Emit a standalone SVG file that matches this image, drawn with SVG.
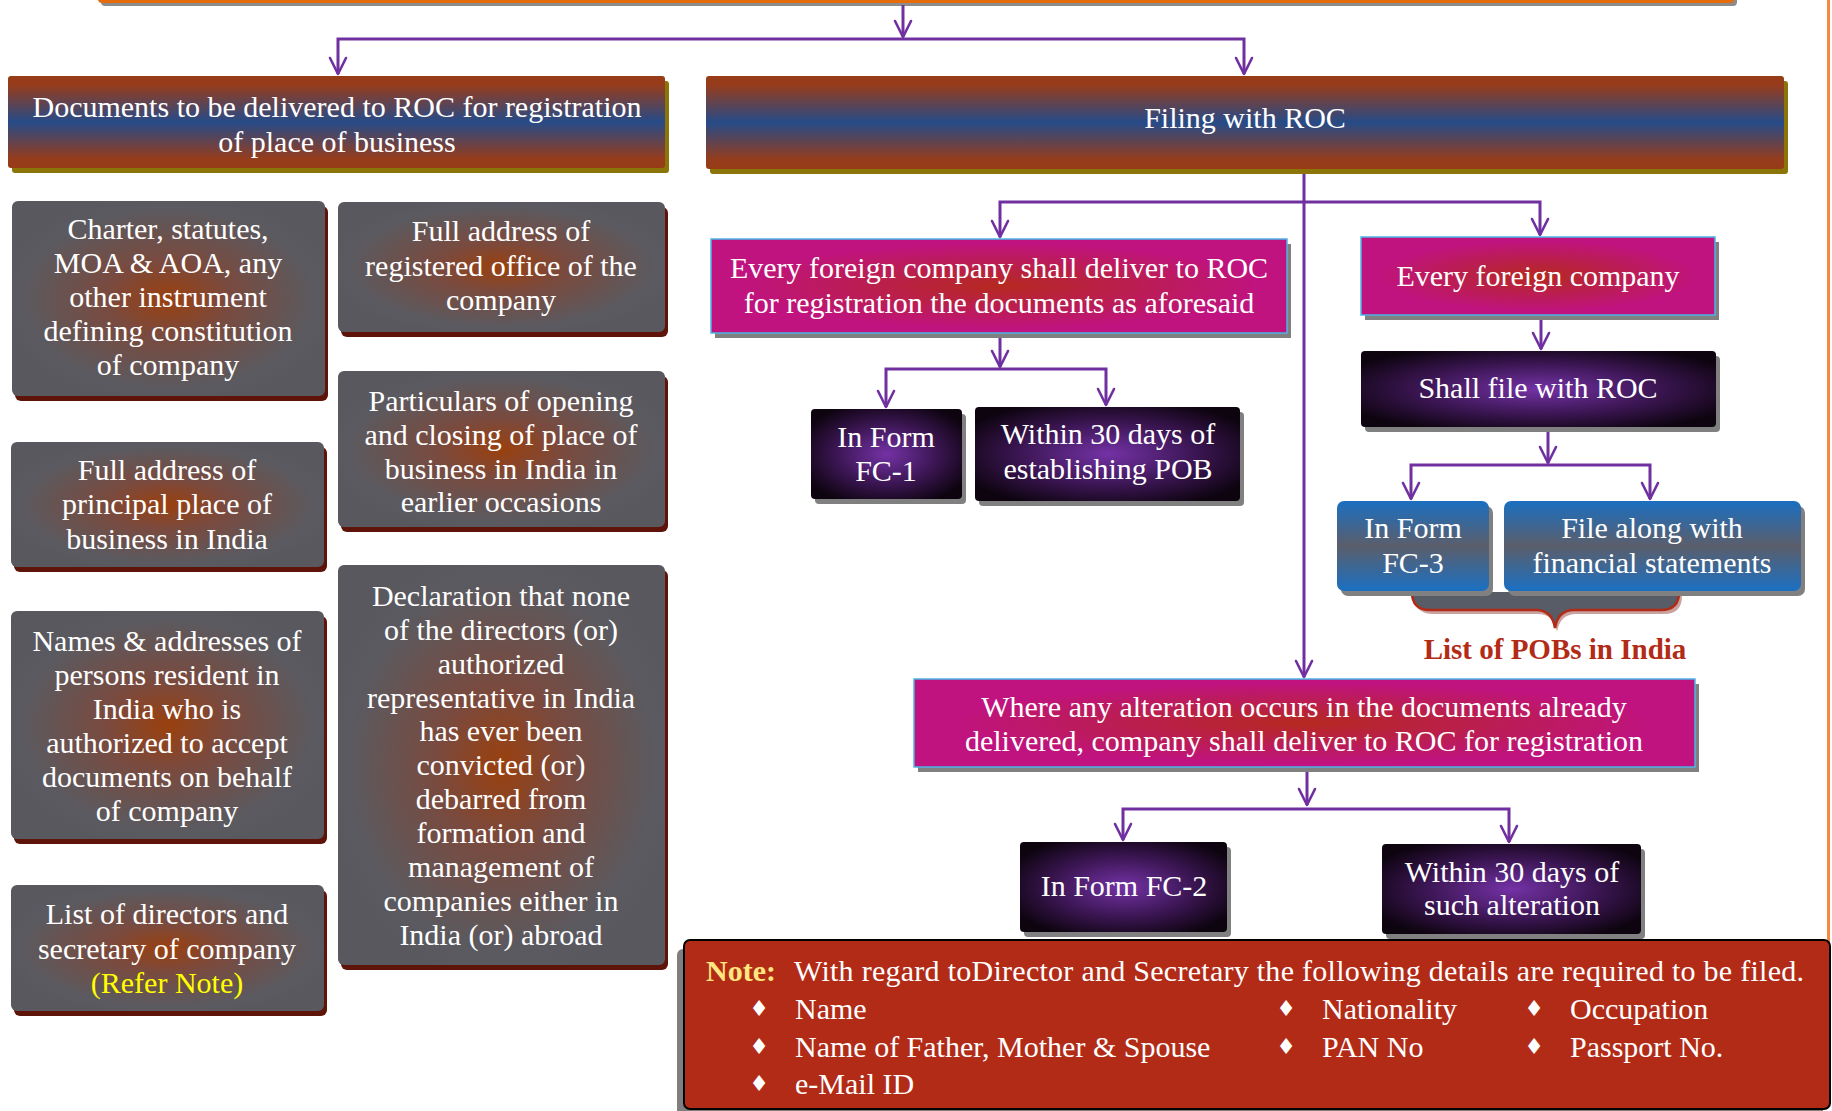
<svg xmlns="http://www.w3.org/2000/svg" width="1832" height="1111" viewBox="0 0 1832 1111">
<style>
.t{font-family:"Liberation Serif","Times New Roman",serif;font-size:30px;fill:#ffffff;text-anchor:middle;dominant-baseline:central}
.n{font-family:"Liberation Serif","Times New Roman",serif;font-size:30px;fill:#ffffff;dominant-baseline:central}
.b{font-family:"DejaVu Sans",sans-serif;font-size:22px;fill:#ffffff;text-anchor:middle;dominant-baseline:central}
.conn path{fill:none;stroke:#7030A0;stroke-width:3}
.sh-o{fill:#8B7509}
.sh-r{fill:#5E1409}
.sh-g{fill:#808080}
.band{fill:url(#gBand)}
.gray{fill:url(#gGray)}
.mag{fill:url(#gMag);stroke:#4DB5E8;stroke-width:1.5}
.pur{fill:url(#gPur)}
.blu{fill:url(#gBlue)}
</style>
<defs>
<linearGradient id="gBand" x1="0" y1="0" x2="0" y2="1">
<stop offset="0" stop-color="#983C16"/>
<stop offset="0.1" stop-color="#963C1C"/>
<stop offset="0.5" stop-color="#264B88"/>
<stop offset="0.9" stop-color="#963C1C"/>
<stop offset="1" stop-color="#983C16"/>
</linearGradient>
<radialGradient id="gGray" cx="0.5" cy="0.5" r="0.55">
<stop offset="0" stop-color="#9A400E"/>
<stop offset="0.35" stop-color="#7A4A3E"/>
<stop offset="0.85" stop-color="#5A5A60"/>
<stop offset="1" stop-color="#58585E"/>
</radialGradient>
<radialGradient id="gMag" cx="0.5" cy="0.5" r="0.5">
<stop offset="0" stop-color="#B5291F"/>
<stop offset="0.9" stop-color="#C0137F"/>
<stop offset="1" stop-color="#C0137F"/>
</radialGradient>
<radialGradient id="gPur" cx="0.5" cy="0.5" r="0.6">
<stop offset="0" stop-color="#7432A6"/>
<stop offset="0.55" stop-color="#3C1654"/>
<stop offset="1" stop-color="#0E0410"/>
</radialGradient>
<linearGradient id="gBlue" x1="0" y1="0" x2="0" y2="1">
<stop offset="0" stop-color="#1B6FC1"/>
<stop offset="0.5" stop-color="#5B5E6B"/>
<stop offset="1" stop-color="#1B70C3"/>
</linearGradient>
<marker id="ah" viewBox="-20 -10 22 20" refX="0" refY="0" markerWidth="22" markerHeight="20" orient="auto" markerUnits="userSpaceOnUse">
<path d="M-16,-8 L0,0 L-16,8" fill="none" stroke="#7030A0" stroke-width="2.6" stroke-linejoin="round" stroke-linecap="round"/>
</marker>
</defs>
<rect width="1832" height="1111" fill="#ffffff"/>

<!-- top bar and right border -->
<g id="topbar">
<rect x="101" y="-37" width="1636" height="43" rx="4" fill="#8C8C8C"/>
<rect x="98" y="-40" width="1636" height="43" rx="4" fill="#E46C0A"/>
</g>
<rect id="rightline" x="1827" y="0" width="3" height="945" fill="#F58A3F"/>

<!-- connectors -->
<g class="conn">
<path d="M903,5 V37" marker-end="url(#ah)"/>
<path d="M903,39 H338 V74" marker-end="url(#ah)"/>
<path d="M903,39 H1244 V74" marker-end="url(#ah)"/>
<path d="M1304,174 V677" marker-end="url(#ah)"/>
<path d="M1304,202 H1000 V237" marker-end="url(#ah)"/>
<path d="M1304,202 H1540 V235" marker-end="url(#ah)"/>
<path d="M1000,338 V367" marker-end="url(#ah)"/>
<path d="M1000,369 H886 V407" marker-end="url(#ah)"/>
<path d="M1000,369 H1106 V405" marker-end="url(#ah)"/>
<path d="M1541,320 V349" marker-end="url(#ah)"/>
<path d="M1548,431 V463" marker-end="url(#ah)"/>
<path d="M1548,465 H1411 V499" marker-end="url(#ah)"/>
<path d="M1548,465 H1650 V499" marker-end="url(#ah)"/>
<path d="M1307,772 V805" marker-end="url(#ah)"/>
<path d="M1307,809 H1123 V840" marker-end="url(#ah)"/>
<path d="M1307,809 H1509 V842" marker-end="url(#ah)"/>
</g>

<!-- header boxes -->
<g id="docs">
<rect class="sh-o" x="12" y="81" width="657" height="92" rx="3"/>
<rect class="band" x="8" y="76" width="657" height="92" rx="3"/>
<text class="t" x="337" y="106">Documents to be delivered to ROC for registration</text>
<text class="t" x="337" y="141">of place of business</text>
</g>
<g id="filing">
<rect class="sh-o" x="710" y="81" width="1078" height="93" rx="3"/>
<rect class="band" x="706" y="76" width="1078" height="93" rx="3"/>
<text class="t" x="1245" y="117">Filing with ROC</text>
</g>

<!-- gray document boxes -->
<g id="charter">
<rect class="sh-r" x="15" y="206" width="313" height="195" rx="6"/>
<rect class="gray" x="12" y="201" width="313" height="195" rx="6"/>
<text class="t" x="168" y="228">Charter, statutes,</text>
<text class="t" x="168" y="262">MOA &amp; AOA, any</text>
<text class="t" x="168" y="296">other instrument</text>
<text class="t" x="168" y="330">defining constitution</text>
<text class="t" x="168" y="364">of company</text>
</g>
<g id="regoffice">
<rect class="sh-r" x="341" y="207" width="327" height="130" rx="6"/>
<rect class="gray" x="338" y="202" width="327" height="130" rx="6"/>
<text class="t" x="501" y="230">Full address of</text>
<text class="t" x="501" y="265">registered office of the</text>
<text class="t" x="501" y="299">company</text>
</g>
<g id="particulars">
<rect class="sh-r" x="341" y="376" width="327" height="156" rx="6"/>
<rect class="gray" x="338" y="371" width="327" height="156" rx="6"/>
<text class="t" x="501" y="400">Particulars of opening</text>
<text class="t" x="501" y="434">and closing of place of</text>
<text class="t" x="501" y="468">business in India in</text>
<text class="t" x="501" y="501">earlier occasions</text>
</g>
<g id="principal">
<rect class="sh-r" x="14" y="447" width="313" height="125" rx="6"/>
<rect class="gray" x="11" y="442" width="313" height="125" rx="6"/>
<text class="t" x="167" y="469">Full address of</text>
<text class="t" x="167" y="503">principal place of</text>
<text class="t" x="167" y="538">business in India</text>
</g>
<g id="names">
<rect class="sh-r" x="14" y="616" width="313" height="228" rx="6"/>
<rect class="gray" x="11" y="611" width="313" height="228" rx="6"/>
<text class="t" x="167" y="640">Names &amp; addresses of</text>
<text class="t" x="167" y="674">persons resident in</text>
<text class="t" x="167" y="708">India who is</text>
<text class="t" x="167" y="742">authorized to accept</text>
<text class="t" x="167" y="776">documents on behalf</text>
<text class="t" x="167" y="810">of company</text>
</g>
<g id="declaration">
<rect class="sh-r" x="341" y="570" width="327" height="400" rx="6"/>
<rect class="gray" x="338" y="565" width="327" height="400" rx="6"/>
<text class="t" x="501" y="595">Declaration that none</text>
<text class="t" x="501" y="629">of the directors (or)</text>
<text class="t" x="501" y="663">authorized</text>
<text class="t" x="501" y="697">representative in India</text>
<text class="t" x="501" y="730">has ever been</text>
<text class="t" x="501" y="764">convicted (or)</text>
<text class="t" x="501" y="798">debarred from</text>
<text class="t" x="501" y="832">formation and</text>
<text class="t" x="501" y="866">management of</text>
<text class="t" x="501" y="900">companies either in</text>
<text class="t" x="501" y="934">India (or) abroad</text>
</g>
<g id="directors">
<rect class="sh-r" x="14" y="890" width="313" height="126" rx="6"/>
<rect class="gray" x="11" y="885" width="313" height="126" rx="6"/>
<text class="t" x="167" y="913">List of directors and</text>
<text class="t" x="167" y="948">secretary of company</text>
<text class="t" x="167" y="982" style="fill:#FFFF00">(Refer Note)</text>
</g>

<!-- magenta boxes -->
<g id="deliver">
<rect class="sh-g" x="715" y="244" width="576" height="94"/>
<rect class="mag" x="711" y="239" width="576" height="94"/>
<text class="t" x="999" y="267">Every foreign company shall deliver to ROC</text>
<text class="t" x="999" y="302">for registration the documents as aforesaid</text>
</g>
<g id="everyforeign">
<rect class="sh-g" x="1365" y="242" width="354" height="78"/>
<rect class="mag" x="1361" y="237" width="354" height="78"/>
<text class="t" x="1538" y="275">Every foreign company</text>
</g>
<g id="alteration">
<rect class="sh-g" x="918" y="684" width="781" height="88"/>
<rect class="mag" x="914" y="679" width="781" height="88"/>
<text class="t" x="1304" y="706">Where any alteration occurs in the documents already</text>
<text class="t" x="1304" y="740">delivered, company shall deliver to ROC for registration</text>
</g>

<!-- purple boxes -->
<g id="shallfile">
<rect class="sh-g" x="1365" y="356" width="355" height="76" rx="4"/>
<rect class="pur" x="1361" y="351" width="355" height="76" rx="4"/>
<text class="t" x="1538" y="387">Shall file with ROC</text>
</g>
<g id="fc1">
<rect class="sh-g" x="815" y="414" width="151" height="90" rx="4"/>
<rect class="pur" x="811" y="409" width="151" height="90" rx="4"/>
<text class="t" x="886" y="436">In Form</text>
<text class="t" x="886" y="470">FC-1</text>
</g>
<g id="within1">
<rect class="sh-g" x="979" y="412" width="265" height="94" rx="4"/>
<rect class="pur" x="975" y="407" width="265" height="94" rx="4"/>
<text class="t" x="1108" y="433">Within 30 days of</text>
<text class="t" x="1108" y="468">establishing POB</text>
</g>
<g id="fc2">
<rect class="sh-g" x="1024" y="847" width="207" height="90" rx="4"/>
<rect class="pur" x="1020" y="842" width="207" height="90" rx="4"/>
<text class="t" x="1124" y="885">In Form FC-2</text>
</g>
<g id="within2">
<rect class="sh-g" x="1386" y="849" width="259" height="90" rx="4"/>
<rect class="pur" x="1382" y="844" width="259" height="90" rx="4"/>
<text class="t" x="1512" y="871">Within 30 days of</text>
<text class="t" x="1512" y="904">such alteration</text>
</g>

<!-- blue boxes and brace -->
<g id="brace">
<path d="M1415,596 Q1415,614 1433,614 H1538 Q1554,614 1557,632 Q1560,614 1576,614 H1664 Q1682,614 1682,596 Z" fill="#C9A3A0"/>
<path d="M1412,592 Q1412,610 1430,610 H1536 Q1552,610 1555,628 Q1558,610 1574,610 H1661 Q1679,610 1679,592 Z" fill="#575C67"/>
<path d="M1412,592 Q1412,610 1430,610 H1536 Q1552,610 1555,628 Q1558,610 1574,610 H1661 Q1679,610 1679,592" fill="none" stroke="#B22B16" stroke-width="2.5"/>
</g>
<g id="fc3">
<rect class="sh-g" x="1341" y="506" width="152" height="90" rx="7"/>
<rect class="blu" x="1337" y="501" width="152" height="90" rx="7"/>
<text class="t" x="1413" y="527">In Form</text>
<text class="t" x="1413" y="562">FC-3</text>
</g>
<g id="filealong">
<rect class="sh-g" x="1508" y="506" width="297" height="90" rx="7"/>
<rect class="blu" x="1504" y="501" width="297" height="90" rx="7"/>
<text class="t" x="1652" y="527">File along with</text>
<text class="t" x="1652" y="562">financial statements</text>
</g>
<text id="pobs" x="1555" y="649" class="t" style="fill:#B22B16;font-weight:bold;font-size:29px">List of POBs in India</text>

<!-- note -->
<g id="note">
<rect x="677" y="949" width="1146" height="170" rx="6" fill="#7F7F7F"/>
<rect x="684" y="940" width="1146" height="169" rx="6" fill="#B22B17" stroke="#000000" stroke-width="2"/>
<text class="n" x="706" y="970" style="fill:#FFE680;font-weight:bold">Note:</text>
<text class="n" x="794" y="970" textLength="1010" lengthAdjust="spacing">With regard toDirector and Secretary the following details are required to be filed.</text>
<text class="b" x="759" y="1008">♦</text>
<text class="n" x="795" y="1008">Name</text>
<text class="b" x="1286" y="1008">♦</text>
<text class="n" x="1322" y="1008">Nationality</text>
<text class="b" x="1534" y="1008">♦</text>
<text class="n" x="1570" y="1008">Occupation</text>
<text class="b" x="759" y="1046">♦</text>
<text class="n" x="795" y="1046">Name of Father, Mother &amp; Spouse</text>
<text class="b" x="1286" y="1046">♦</text>
<text class="n" x="1322" y="1046">PAN No</text>
<text class="b" x="1534" y="1046">♦</text>
<text class="n" x="1570" y="1046">Passport No.</text>
<text class="b" x="759" y="1083">♦</text>
<text class="n" x="795" y="1083">e-Mail ID</text>
</g>
</svg>
